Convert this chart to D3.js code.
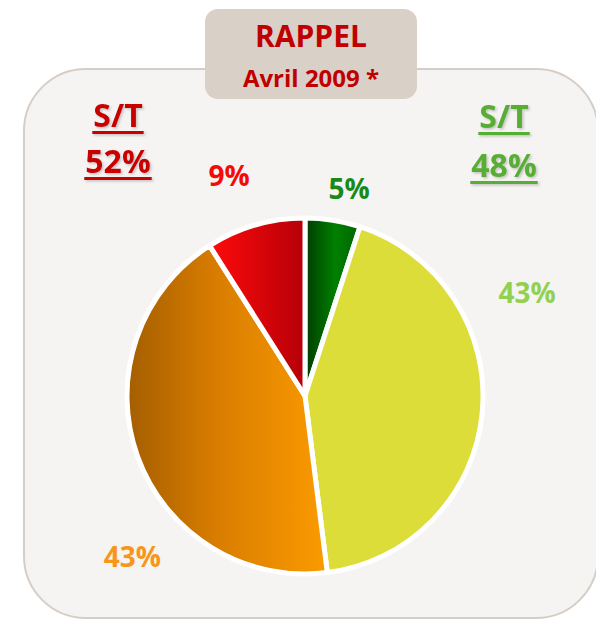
<!DOCTYPE html>
<html>
<head>
<meta charset="utf-8">
<script src="https://cdn.jsdelivr.net/npm/d3@7"></script>
<style>
  body { margin: 0; background: #ffffff; }
  svg { display: block; font-family: "Open Sans", sans-serif; }
</style>
</head>
<body>
<div id="chart-area"></div>
<script>
// Data
var categories = ["vert", "jaune", "orange", "rouge"];
var values = [5, 43, 43, 9];
var labels = ["5%", "43%", "43%", "9%"];
var labelColors = ["#178a17", "#92d050", "#f7961a", "#f50a0a"];
var titleLines = ["RAPPEL", "Avril 2009 *"];
var leftSummary = ["S/T", "52%"];
var rightSummary = ["S/T", "48%"];

// Label layout (angle in degrees clockwise from top, radius from centre)
var labelPos = [[12, 212], [65, 245], [227, 236], [341, 233]];

var width = 596, height = 619;
var cx = 305, cy = 396, radius = 178;

var svg = d3.select("#chart-area").append("svg")
    .attr("width", width)
    .attr("height", height);

var defs = svg.append("defs");

// gradients for slices
var gradStops = [
    [["0%", "#003c00"], ["55%", "#008000"], ["100%", "#006400"]],
    [["0%", "#dcdd38"], ["100%", "#dcdd38"]],
    [["0%", "#a45e00"], ["45%", "#d97d00"], ["100%", "#fb9b00"]],
    [["0%", "#ff0a0a"], ["100%", "#b50008"]]
];
gradStops.forEach(function(stops, i) {
    var lg = defs.append("linearGradient")
        .attr("id", "grad" + i)
        .attr("x1", "0%").attr("x2", "100%")
        .attr("y1", "0%").attr("y2", "0%");
    stops.forEach(function(s) {
        lg.append("stop").attr("offset", s[0]).attr("stop-color", s[1]);
    });
});

var shadow = defs.append("filter").attr("id", "shadow")
    .attr("x", "-20%").attr("y", "-20%").attr("width", "150%").attr("height", "150%");
shadow.append("feDropShadow")
    .attr("dx", 1.5).attr("dy", 1.5).attr("stdDeviation", 1)
    .attr("flood-color", "#666").attr("flood-opacity", 0.35);

// background panel
svg.append("rect")
    .attr("x", 24).attr("y", 69)
    .attr("width", 574).attr("height", 549)
    .attr("rx", 62).attr("ry", 62)
    .attr("fill", "#f5f4f2")
    .attr("stroke", "#d6cec6")
    .attr("stroke-width", 2);

// title box
svg.append("rect")
    .attr("x", 205).attr("y", 9)
    .attr("width", 212).attr("height", 90)
    .attr("rx", 13).attr("ry", 13)
    .attr("fill", "#d9d0c8");

svg.append("text")
    .attr("x", 311).attr("y", 47)
    .attr("text-anchor", "middle")
    .attr("font-size", "30px").attr("font-weight", "bold")
    .attr("fill", "#c00000")
    .text(titleLines[0]);

svg.append("text")
    .attr("x", 311).attr("y", 87)
    .attr("text-anchor", "middle")
    .attr("font-size", "24px").attr("font-weight", "bold")
    .attr("fill", "#c00000")
    .text(titleLines[1]);

// summary labels (underlined)
function summary(lines, x, ys, color) {
    var g = svg.append("g").attr("filter", "url(#shadow)");
    lines.forEach(function(t, i) {
        var txt = g.append("text")
            .attr("x", x).attr("y", ys[i])
            .attr("text-anchor", "middle")
            .attr("font-size", "32px").attr("font-weight", "bold")
            .attr("fill", color)
            .text(t);
        var w = txt.node().getComputedTextLength();
        g.append("rect")
            .attr("x", x - w / 2 - 1).attr("y", ys[i] + 4)
            .attr("width", w + 2).attr("height", 3)
            .attr("fill", color);
    });
}
summary(leftSummary, 118, [127, 173], "#c80000");
summary(rightSummary, 504, [128, 177], "#58ad34");

// pie
var pie = d3.pie().sort(null).value(function(d) { return d; });
var arc = d3.arc().innerRadius(0).outerRadius(radius);
var g = svg.append("g").attr("transform", "translate(" + cx + "," + cy + ")");

g.selectAll("path.slice")
    .data(pie(values))
    .enter().append("path")
    .attr("class", "slice")
    .attr("d", arc)
    .attr("fill", function(d, i) { return "url(#grad" + i + ")"; })
    .attr("stroke", "#ffffff")
    .attr("stroke-width", 5)
    .attr("stroke-linejoin", "round");

// percentage labels
g.selectAll("text.pct")
    .data(labels)
    .enter().append("text")
    .attr("class", "pct")
    .attr("x", function(d, i) { return labelPos[i][1] * Math.sin(labelPos[i][0] * Math.PI / 180); })
    .attr("y", function(d, i) { return -labelPos[i][1] * Math.cos(labelPos[i][0] * Math.PI / 180); })
    .attr("dy", "0.36em")
    .attr("text-anchor", "middle")
    .attr("font-size", "28px").attr("font-weight", "bold")
    .attr("fill", function(d, i) { return labelColors[i]; })
    .text(function(d) { return d; });
</script>
</body>
</html>
